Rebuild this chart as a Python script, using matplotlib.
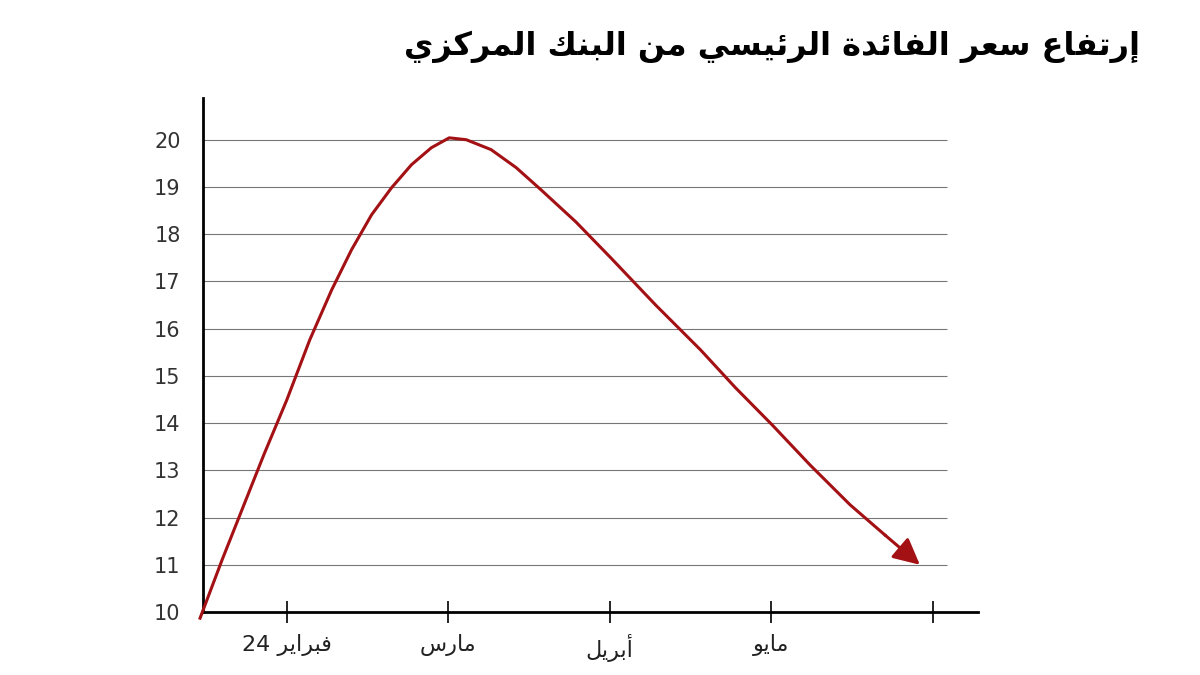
import matplotlib
matplotlib.use("Agg")
import matplotlib.pyplot as plt

# ---- simple Arabic shaper (presentation forms) ----
FORMS = {
 '\u0627':('\uFE8D','\uFE8E'), '\u0623':('\uFE83','\uFE84'), '\u0625':('\uFE87','\uFE88'),
 '\u0626':('\uFE89','\uFE8A','\uFE8B','\uFE8C'), '\u0628':('\uFE8F','\uFE90','\uFE91','\uFE92'),
 '\u0629':('\uFE93','\uFE94'), '\u062A':('\uFE95','\uFE96','\uFE97','\uFE98'),
 '\u062F':('\uFEA9','\uFEAA'), '\u0631':('\uFEAD','\uFEAE'), '\u0632':('\uFEAF','\uFEB0'),
 '\u0633':('\uFEB1','\uFEB2','\uFEB3','\uFEB4'), '\u0639':('\uFEC9','\uFECA','\uFECB','\uFECC'),
 '\u0641':('\uFED1','\uFED2','\uFED3','\uFED4'), '\u0643':('\uFED9','\uFEDA','\uFEDB','\uFEDC'),
 '\u0644':('\uFEDD','\uFEDE','\uFEDF','\uFEE0'), '\u0645':('\uFEE1','\uFEE2','\uFEE3','\uFEE4'),
 '\u0646':('\uFEE5','\uFEE6','\uFEE7','\uFEE8'), '\u064A':('\uFEF1','\uFEF2','\uFEF3','\uFEF4'),
 '\u0648':('\uFEED','\uFEEE'),
}
def shape_word(w):
    out = []
    for i, c in enumerate(w):
        if c not in FORMS:
            out.append(c); continue
        f = FORMS[c]
        prev = w[i-1] if i > 0 else None
        nxt = w[i+1] if i + 1 < len(w) else None
        pj = prev in FORMS and len(FORMS[prev]) == 4
        nj = len(f) == 4 and nxt in FORMS
        if pj and nj: out.append(f[3])
        elif pj: out.append(f[1])
        elif nj: out.append(f[2])
        else: out.append(f[0])
    return ''.join(out)
def ar(s):
    toks = s.split(' ')
    vis = []
    for t in reversed(toks):
        if any(c in FORMS for c in t):
            vis.append(shape_word(t)[::-1])
        else:
            vis.append(t)
    return ' '.join(vis)

# ---- data ----
title = "إرتفاع سعر الفائدة الرئيسي من البنك المركزي"
month_labels = ["فبراير 24", "مارس", "أبريل", "مايو", ""]
month_pos = [0, 1, 2, 3, 4]
curve_x = [-0.537, -0.401, -0.278, -0.142, 0.0, 0.142, 0.278, 0.401, 0.525, 0.648, 0.772, 0.895,
           1.006, 1.111, 1.265, 1.420, 1.574, 1.790, 2.006, 2.284, 2.562, 2.778, 3.006, 3.241,
           3.488, 3.704, 3.920]
curve_y = [9.87, 11.10, 12.16, 13.33, 14.49, 15.76, 16.82, 17.67, 18.41, 18.98, 19.47, 19.83,
           20.04, 20.0, 19.79, 19.41, 18.94, 18.26, 17.5, 16.50, 15.55, 14.75, 13.96, 13.11,
           12.27, 11.63, 11.0]
y_ticks = [10, 11, 12, 13, 14, 15, 16, 17, 18, 19, 20]

red = '#a31115'
fig = plt.figure(figsize=(12, 6.75), dpi=100)
ax = fig.add_axes([0.169, 0.0933, 0.646, 0.762])
ax.set_xlim(-0.52, 4.28)
ax.set_ylim(10, 20.89)
for y in y_ticks[1:]:
    ax.hlines(y, -0.52, 4.09, color='#777777', lw=0.8, zorder=1)
ax.plot(curve_x[:-1], curve_y[:-1], color=red, lw=2.2, clip_on=False, zorder=3,
        solid_joinstyle='round')
ax.annotate('', xy=(curve_x[-1], curve_y[-1]), xytext=(curve_x[-2], curve_y[-2]),
            arrowprops=dict(arrowstyle='-|>,head_length=1.6,head_width=0.8', color=red, lw=2.2,
                            shrinkA=0, shrinkB=0), zorder=4, annotation_clip=False)
for s in ['top', 'right']:
    ax.spines[s].set_visible(False)
for s in ['left', 'bottom']:
    ax.spines[s].set_linewidth(2)
ax.set_yticks(y_ticks)
ax.set_yticklabels([str(v) for v in y_ticks], fontsize=15, color='#333333')
ax.tick_params(axis='y', length=0, pad=16)
ax.set_xticks(month_pos)
ax.set_xticklabels([ar(l) for l in month_labels], fontsize=16, color='#222222', family='DejaVu Sans')
ax.tick_params(axis='x', direction='inout', length=16, width=1.2, pad=8)
fig.text(0.95, 0.93, ar(title), ha='right', va='center', fontsize=23, fontweight='bold',
         family='DejaVu Sans')
fig.savefig('out.png', dpi=100)
